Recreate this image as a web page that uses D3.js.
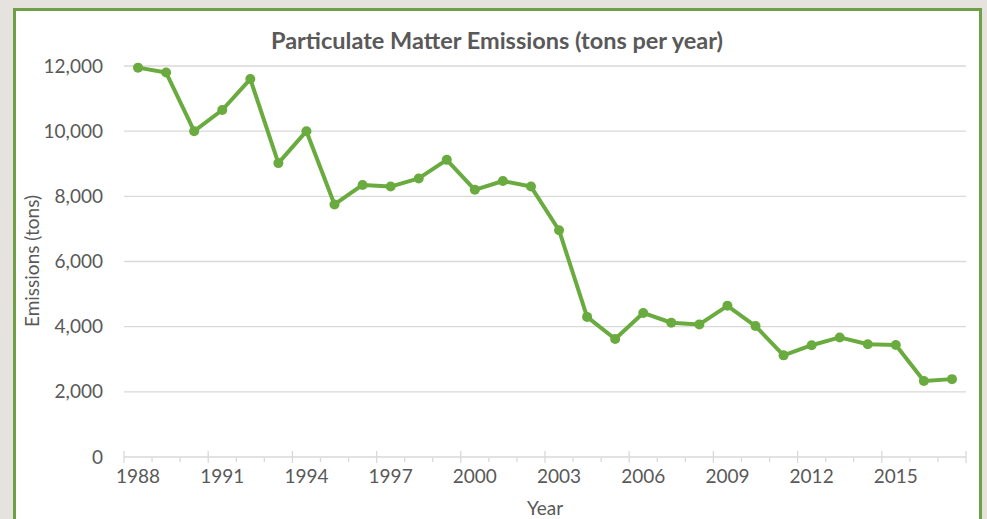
<!DOCTYPE html>
<html lang="en">
<head>
<meta charset="utf-8">
<title>Particulate Matter Emissions</title>
<script src="https://cdn.jsdelivr.net/npm/d3@7"></script>
<style>
  html, body { margin: 0; padding: 0; background: #e6e2dd; }
  text { font-family: Lato, "Open Sans", sans-serif; fill: #595959; }
</style>
</head>
<body>
<script>
var years = d3.range(1988, 2018);
var emissions = [11950, 11800, 10000, 10650, 11600, 9020, 10000, 7750, 8350, 8300,
                 8550, 9120, 8200, 8470, 8300, 6960, 4300, 3620, 4420, 4120,
                 4070, 4640, 4020, 3120, 3430, 3670, 3460, 3440, 2330, 2390];
var yTicks = [0, 2000, 4000, 6000, 8000, 10000, 12000];

var w = 987, h = 519;
var padL = 124, padR = 966, padT = 66, padB = 457;

var svg = d3.select("body").append("svg")
  .attr("width", w)
  .attr("height", h);

// white chart area with green frame
svg.append("rect")
  .attr("x", 14.5).attr("y", 9.5)
  .attr("width", 966).attr("height", 530)
  .attr("fill", "#fff")
  .attr("stroke", "#6f9f47")
  .attr("stroke-width", 3);

var x = d3.scaleBand().domain(years).range([padL, padR]);
var y = d3.scaleLinear().domain([0, 12000]).range([padB, padT]);

// gridlines
svg.selectAll(".grid")
  .data(yTicks.filter(function(d) { return d > 0; }))
  .enter().append("line")
  .attr("x1", padL).attr("x2", padR)
  .attr("y1", function(d) { return y(d); })
  .attr("y2", function(d) { return y(d); })
  .attr("stroke", "#d9d9d9")
  .attr("stroke-width", 1.3);

// y tick labels
svg.selectAll(".ylab")
  .data(yTicks)
  .enter().append("text")
  .attr("x", 103)
  .attr("y", function(d) { return y(d); })
  .attr("dy", "0.35em")
  .attr("text-anchor", "end")
  .style("font-size", "19px")
  .text(function(d) { return d3.format(",")(d); });

// x axis line and ticks
svg.append("line")
  .attr("x1", padL).attr("x2", padR)
  .attr("y1", padB).attr("y2", padB)
  .attr("stroke", "#d9d9d9")
  .attr("stroke-width", 1.3);

var bounds = d3.range(0, years.length + 1);
svg.selectAll(".xtick")
  .data(bounds)
  .enter().append("line")
  .attr("x1", function(i) { return padL + i * x.bandwidth(); })
  .attr("x2", function(i) { return padL + i * x.bandwidth(); })
  .attr("y1", function(i) { return i % 3 === 0 ? padB - 6 : padB + 1; })
  .attr("y2", function(i) { return i % 3 === 0 ? padB + 6 : padB + 5; })
  .attr("stroke", "#d9d9d9")
  .attr("stroke-width", 1.3);

svg.selectAll(".xlab")
  .data(years.filter(function(d, i) { return i % 3 === 0; }))
  .enter().append("text")
  .attr("x", function(d) { return x(d) + x.bandwidth() / 2; })
  .attr("y", 483)
  .attr("text-anchor", "middle")
  .style("font-size", "19px")
  .text(function(d) { return d; });

// titles
svg.append("text")
  .attr("x", 497).attr("y", 49)
  .attr("text-anchor", "middle")
  .style("font-size", "23.5px")
  .style("font-weight", "bold")
  .text("Particulate Matter Emissions (tons per year)");

svg.append("text")
  .attr("x", 545).attr("y", 515)
  .attr("text-anchor", "middle")
  .style("font-size", "19px")
  .text("Year");

svg.append("text")
  .attr("transform", "translate(39,261) rotate(-90)")
  .attr("text-anchor", "middle")
  .style("font-size", "19px")
  .text("Emissions (tons)");

// series
var pts = years.map(function(d, i) { return [d, emissions[i]]; });
var line = d3.line()
  .x(function(d) { return x(d[0]) + x.bandwidth() / 2; })
  .y(function(d) { return y(d[1]); });

svg.append("path")
  .datum(pts)
  .attr("d", line)
  .attr("fill", "none")
  .attr("stroke", "#6aab3f")
  .attr("stroke-width", 4)
  .attr("stroke-linejoin", "round");

svg.selectAll(".dot")
  .data(pts)
  .enter().append("circle")
  .attr("cx", function(d) { return x(d[0]) + x.bandwidth() / 2; })
  .attr("cy", function(d) { return y(d[1]); })
  .attr("r", 5)
  .attr("fill", "#6aab3f");
</script>
</body>
</html>
